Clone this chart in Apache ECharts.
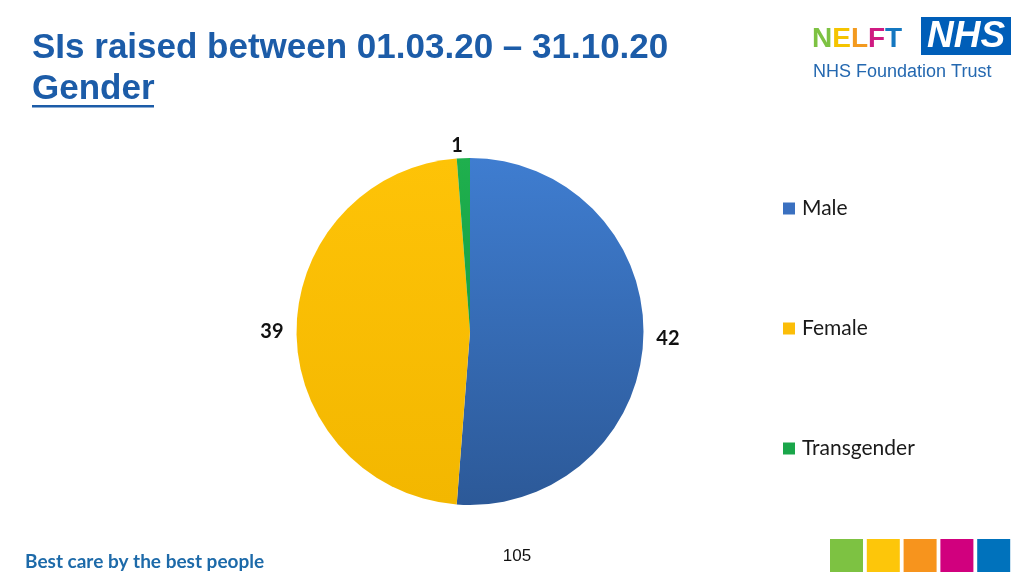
<!DOCTYPE html>
<html>
<head>
<meta charset="utf-8">
<script src="https://cdn.jsdelivr.net/npm/echarts@6/dist/echarts.min.js"></script>
<style>
html,body{margin:0;padding:0;background:#fff;}
#chart{width:1036px;height:581px;}
</style>
</head>
<body>
<div id="chart"></div>
<script>
// ---- data ----
const categories = ['Male', 'Female', 'Transgender'];
const values = [42, 39, 1];
const titleLine1 = 'SIs raised between 01.03.20 \u2013 31.10.20';
const titleLine2 = 'Gender';
const pageNumber = '105';
const footerText = 'Best care by the best people';
const logoLetters = ['N', 'E', 'L', 'F', 'T'];

// ---- styles ----
const sliceColors = [
  {type:'linear', x:0, y:0, x2:0, y2:1, colorStops:[{offset:0,color:'#3f7dd0'},{offset:1,color:'#2c5998'}]},
  {type:'linear', x:0, y:0, x2:0, y2:1, colorStops:[{offset:0,color:'#fec307'},{offset:1,color:'#f3b700'}]},
  {type:'linear', x:0, y:0, x2:0, y2:1, colorStops:[{offset:0,color:'#1fb04e'},{offset:1,color:'#17a044'}]}
];
const legendColors = ['#3a70c0', '#fbbd08', '#1aa64a'];
const squareColors = ['#7dc242', '#fdc60a', '#f7941d', '#d1007e', '#0072bc'];
const logoColors = ['#7dc242', '#f5c400', '#f39a1f', '#cf1a82', '#1477c0'];
const logoX = [812, 832.2, 850.9, 868, 885.1];

const chart = echarts.init(document.getElementById('chart'), null, {renderer:'canvas'});

const pieData = categories.map((c, i) => ({
  name: c,
  value: values[i],
  itemStyle: {color: sliceColors[i]}
}));

const squares = squareColors.map((col, i) => ({
  type: 'rect',
  shape: {x: 830 + i * 36.8, y: 539, width: 33, height: 33},
  style: {fill: col},
  silent: true
}));

const logo = logoLetters.map((ch, i) => ({
  type: 'text',
  style: {x: logoX[i], y: 39, text: ch, fontFamily: 'Liberation Sans', fontWeight: 'bold', fontSize: 28,
    fill: logoColors[i], verticalAlign: 'middle', align: 'left'}
}));

const option = {
  backgroundColor: '#ffffff',
  animation: false,
  color: legendColors,
  legend: {
    orient: 'vertical',
    left: 778,
    top: 193,
    itemWidth: 12,
    itemHeight: 12,
    itemGap: 99,
    icon: 'rect',
    selectedMode: false,
    data: categories.map((c, i) => ({name: c, itemStyle: {color: legendColors[i]}})),
    textStyle: {fontFamily: 'Lato', fontSize: 21, color: '#1a1a1a', lineHeight: 20, padding: [0,0,0,2]}
  },
  series: [{
    type: 'pie',
    center: [470, 331.5],
    radius: 173.5,
    startAngle: 90,
    clockwise: true,
    avoidLabelOverlap: false,
    silent: true,
    emphasis: {disabled: true},
    label: {
      show: true,
      position: 'outside',
      formatter: '{c}',
      fontFamily: 'Lato',
      fontWeight: 'bold',
      fontSize: 20,
      color: '#111111',
      distanceToLabelLine: 0
    },
    labelLine: {show: false, length: 13, length2: 0},
    data: pieData
  }],
  graphic: [
    {type:'text', style:{x:32, y:48.5, text:titleLine1, fontFamily:'Liberation Sans, Arial', fontWeight:'bold', fontSize:35, fill:'#1c5ca8', verticalAlign:'middle', align:'left'}},
    {type:'text', style:{x:32, y:89, text:titleLine2, fontFamily:'Liberation Sans, Arial', fontWeight:'bold', fontSize:35, fill:'#1c5ca8', verticalAlign:'middle', align:'left'}},
    {type:'rect', shape:{x:32, y:105, width:122, height:2.5}, style:{fill:'#1c5ca8'}},
    {type:'rect', shape:{x:921, y:17, width:90, height:38}, style:{fill:'#005eb8'}},
    {type:'text', style:{x:966, y:37, text:'NHS', fontFamily:'Liberation Sans', fontWeight:'bold', fontStyle:'italic', fontSize:37, fill:'#ffffff', verticalAlign:'middle', align:'center'}},
    {type:'text', style:{x:813, y:72, text:'NHS Foundation Trust', fontFamily:'Liberation Sans', fontSize:18, fill:'#2468b0', verticalAlign:'middle', align:'left'}},
    {type:'text', style:{x:25, y:562, text:footerText, fontFamily:'Lato', fontWeight:'bold', fontSize:19, fill:'#1d6aa9', verticalAlign:'middle', align:'left'}},
    {type:'text', style:{x:517, y:556, text:pageNumber, fontFamily:'Liberation Sans', fontSize:17, fill:'#111111', verticalAlign:'middle', align:'center'}}
  ].concat(logo, squares)
};
chart.setOption(option);
</script>
</body>
</html>
